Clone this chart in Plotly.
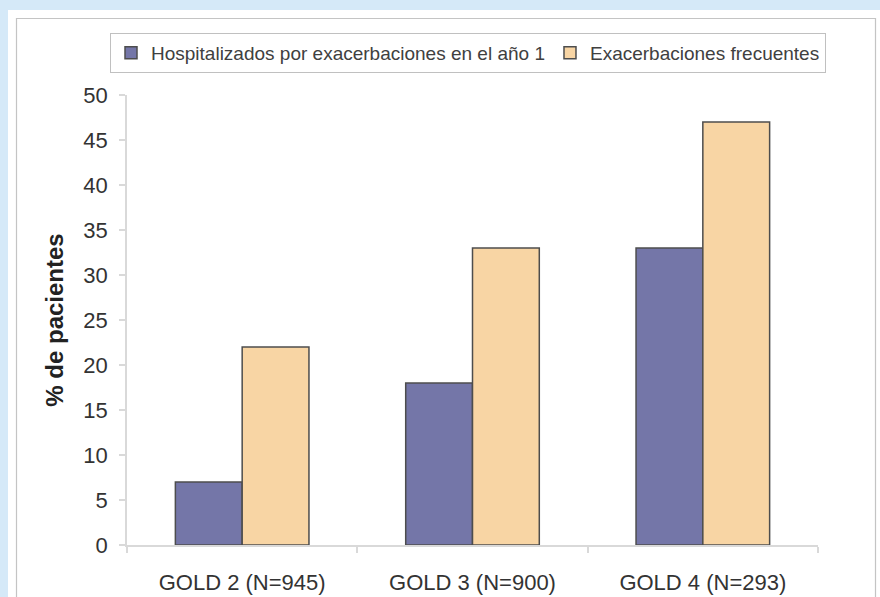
import plotly.graph_objects as go

categories = ["GOLD 2 (N=945)", "GOLD 3 (N=900)", "GOLD 4 (N=293)"]
hospitalizados = [7, 18, 33]
frecuentes = [22, 33, 47]
series_names = ["Hospitalizados por exacerbaciones en el año 1", "Exacerbaciones frecuentes"]
y_ticks = [0, 5, 10, 15, 20, 25, 30, 35, 40, 45, 50]

W, H = 880, 597
L, R, T, B = 127, 62, 95, 52
PW, PH = W - L - R, H - T - B

def px(x):
    return (x - L) / PW

def py(y):
    return (H - B - y) / PH

font = "Liberation Sans, Arial, sans-serif"
outline = dict(color="#4d4d4d", width=1.5)

fig = go.Figure()
fig.add_trace(go.Bar(x=categories, y=hospitalizados, name=series_names[0],
                     marker=dict(color="#7476a8", line=outline)))
fig.add_trace(go.Bar(x=categories, y=frecuentes, name=series_names[1],
                     marker=dict(color="#f8d5a4", line=outline)))

fig.update_layout(
    width=W, height=H,
    margin=dict(l=L, r=R, t=T, b=B, pad=0, autoexpand=False),
    paper_bgcolor="#d5e9f8",
    plot_bgcolor="rgba(0,0,0,0)",
    barmode="group", bargap=0.42, bargroupgap=0,
    font=dict(family=font, color="#333333", size=20),
    showlegend=True,
    legend=dict(orientation="h", x=px(110), xanchor="left", y=py(33), yanchor="top",
                bordercolor="#c0c0c0", borderwidth=1, bgcolor="white",
                font=dict(size=19, color="#404040"), itemwidth=30,
                tracegroupgap=0, traceorder="normal"),
    shapes=[
        dict(type="rect", xref="paper", yref="paper", layer="below",
             x0=px(8), x1=px(900), y0=py(620), y1=py(10),
             fillcolor="white", line=dict(width=0)),
        dict(type="rect", xref="paper", yref="paper", layer="below",
             x0=px(16.5), x1=px(875.5), y0=py(640), y1=py(18.5),
             fillcolor="rgba(0,0,0,0)", line=dict(color="#c4c4c4", width=1.2)),
    ],
)
fig.update_yaxes(range=[0, 50], tickvals=y_ticks, showgrid=False, zeroline=False,
                 showline=True, linecolor="#d9d9d9", linewidth=1.5, automargin=False,
                 ticks="outside", ticklen=6, tickcolor="#d9d9d9", tickwidth=1.5,
                 ticklabelstandoff=7,
                 tickfont=dict(size=22, color="#333333"),
                 title=dict(text="<b>% de pacientes</b>", font=dict(size=24, color="#222222"),
                            standoff=13))
fig.update_xaxes(showgrid=False, showline=True, linecolor="#d9d9d9", linewidth=1.5,
                 automargin=False,
                 ticks="outside", tickson="boundaries", ticklen=6, tickcolor="#d9d9d9",
                 tickwidth=1.5, ticklabelstandoff=17,
                 tickfont=dict(size=22, color="#333333"))

fig.write_html("out.html")
